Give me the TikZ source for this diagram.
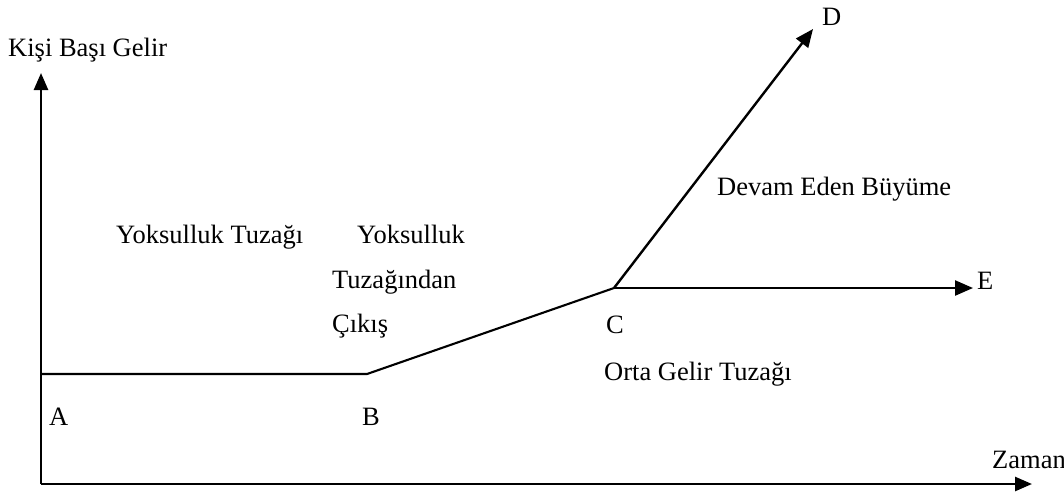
\documentclass[tikz,border=0pt]{standalone}
\usepackage{fontspec}
\setmainfont{Liberation Serif}
\usetikzlibrary{arrows.meta}
\begin{document}
\begin{tikzpicture}[x=1pt,y=-1pt,
  lbl/.style={anchor=base west,inner sep=0pt,font=\fontsize{26.5}{30}\selectfont},
  axis/.style={line width=2.6pt,-{Triangle[length=17pt,width=14pt]}},
  path/.style={line width=2.1pt},
  arr/.style={line width=2.4pt,-{Triangle[length=18pt,width=15pt]}}]
\useasboundingbox (0,0) rectangle (1064,493);
\coordinate (O) at (41,484);
\coordinate (Ytop) at (41,73);
\coordinate (Xend) at (1032,484);
\coordinate (A) at (41,374);
\coordinate (B) at (367,374);
\coordinate (C) at (614,288);
\coordinate (D) at (813,29);
\coordinate (E) at (973,288);
\draw[axis] (O) -- (Ytop);
\draw[axis] (O) -- (Xend);
\draw[path,line join=round] (A) -- (B) -- (C);
\draw[arr] (C) -- (D);
\draw[arr] (C) -- (E);
\node[lbl] (ylab) at (8,56) {Kişi Başı Gelir};
\node[lbl] (xlab) at (992,468) {Zaman};
\node[lbl] (dlab) at (822,25) {D};
\node[lbl] (elab) at (977,289) {E};
\node[lbl] (clab) at (606,333) {C};
\node[lbl] (alab) at (49,425) {A};
\node[lbl] (blab) at (362,425) {B};
\node[lbl] (l1) at (116,243) {Yoksulluk Tuzağı};
\node[lbl] (l2) at (357,243) {Yoksulluk};
\node[lbl] (l3) at (332,288) {Tuzağından};
\node[lbl] (l4) at (332,332) {Çıkış};
\node[lbl] (l5) at (717,195) {Devam Eden Büyüme};
\node[lbl] (l6) at (604,380) {Orta Gelir Tuzağı};
\end{tikzpicture}
\end{document}
